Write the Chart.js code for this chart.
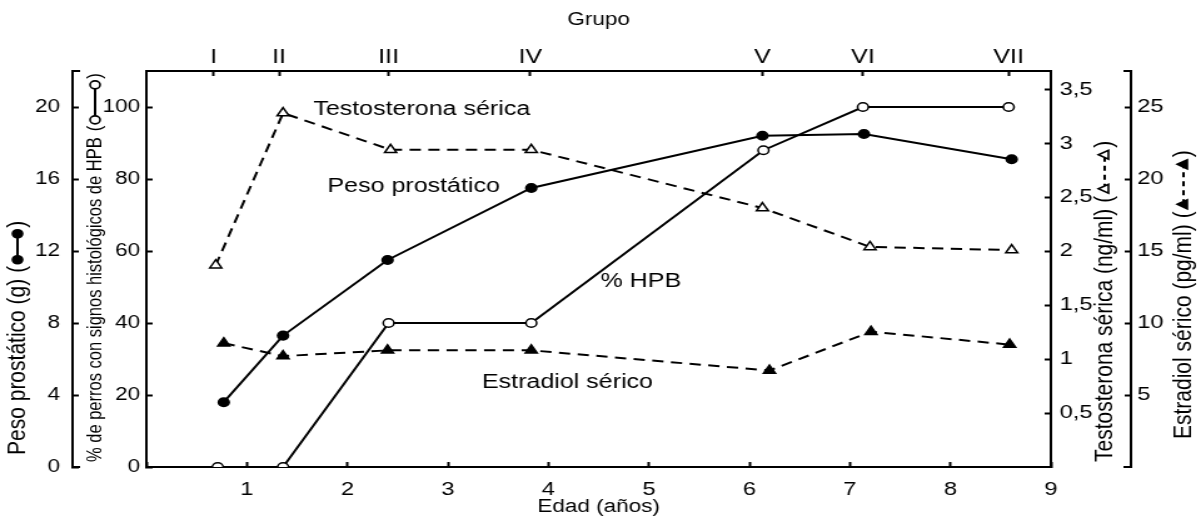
<!DOCTYPE html>
<html>
<head>
<meta charset="utf-8">
<script src="https://cdn.jsdelivr.net/npm/chart.js@4/dist/chart.umd.min.js"></script>
<style>
  html, body { margin: 0; padding: 0; background: #fff; overflow: hidden; }
  /* the figure is drawn on a narrower canvas and widened to the page width */
  #c { display: block; width: 1201px !important; height: 519px !important; }
</style>
</head>
<body>
<canvas id="c" width="960" height="519" style="width:1201px;height:519px"></canvas>
<script>
// Grupos de edad (eje superior)
const grupos = ['I', 'II', 'III', 'IV', 'V', 'VI', 'VII'];
const edadGrupo = [0.67, 1.32, 2.41, 3.82, 6.13, 7.13, 8.58];

// Peso prostático (g)
const edadPeso = [0.77, 1.36, 2.40, 3.83, 6.13, 7.14, 8.61];
const pesoProstatico = [3.6, 7.3, 11.5, 15.5, 18.4, 18.5, 17.1];

// % de perros con signos histológicos de HPB
const edadHPB = [0.71, 1.36, 2.41, 3.83, 6.14, 7.13, 8.58];
const perrosHPB = [0, 0, 40, 40, 88, 100, 100];

// Testosterona sérica (ng/ml)
const edadTesto = [0.69, 1.36, 2.43, 3.83, 6.13, 7.20, 8.61];
const testosterona = [1.87, 3.28, 2.94, 2.94, 2.40, 2.04, 2.01];

// Estradiol sérico (pg/ml)
const edadEstradiol = [0.77, 1.36, 2.40, 3.83, 6.20, 7.21, 8.59];
const estradiol = [8.6, 7.7, 8.1, 8.1, 6.7, 9.4, 8.5];

// Marcas de los ejes
const ticksEdad = [0, 1, 2, 3, 4, 5, 6, 7, 8, 9];
const ticksPeso = [0, 4, 8, 12, 16, 20];
const ticksHPB = [0, 20, 40, 60, 80, 100];
const ticksTesto = [0.5, 1, 1.5, 2, 2.5, 3, 3.5];
const ticksEstradiol = [5, 10, 15, 20, 25];

const FONT = '"Liberation Sans", Arial, Helvetica, sans-serif';
const f = size => ({ family: FONT, size: size });

const pts = (xs, ys) => xs.map((x, i) => ({ x: x, y: ys[i] }));
const setTicks = vals => s => { s.ticks = vals.map(v => ({ value: v })); };
const coma = v => String(v).replace('.', ',');

function frame(extra) {
  return Object.assign({
    border: { display: true, color: '#000', width: 2 },
    grid: { drawOnChartArea: false, color: '#000', tickColor: '#000', tickWidth: 2, tickLength: -5 },
  }, extra);
}

// Rótulos dentro del área de trazado (en unidades de edad y de %)
const rotulos = [
  { texto: 'Testosterona sérica', edad: 2.74, pct: 99.2 },
  { texto: 'Peso prostático', edad: 2.66, pct: 77.8 },
  { texto: '% HPB', edad: 4.92, pct: 51.4 },
  { texto: 'Estradiol sérico', edad: 4.19, pct: 23.6 },
];

// Títulos verticales con su símbolo de serie
function tituloVertical(ctx, x, y0, size, texto, simbolo) {
  ctx.save();
  ctx.translate(x, y0);
  ctx.rotate(-Math.PI / 2);
  ctx.font = size + 'px ' + FONT;
  ctx.fillStyle = '#000';
  ctx.strokeStyle = '#000';
  ctx.textBaseline = 'middle';
  ctx.textAlign = 'left';
  ctx.fillText(texto, 0, 0);
  let u = ctx.measureText(texto).width + 6;
  ctx.fillText('(', u, 0);
  u += ctx.measureText('(').width + 2;
  const L = simbolo.largo;
  const r = simbolo.radio;
  ctx.lineWidth = 2;
  ctx.setLineDash(simbolo.discontinuo ? [5, 4] : []);
  ctx.beginPath();
  ctx.moveTo(u + r, 0);
  ctx.lineTo(u + L - r, 0);
  ctx.stroke();
  ctx.setLineDash([]);
  [u + r, u + L - r].forEach(c => {
    ctx.beginPath();
    if (simbolo.forma === 'circulo') {
      ctx.arc(c, 0, r, 0, Math.PI * 2);
    } else {
      ctx.moveTo(c, -r);
      ctx.lineTo(c + r * 0.9, r * 0.6);
      ctx.lineTo(c - r * 0.9, r * 0.6);
      ctx.closePath();
    }
    ctx.fillStyle = simbolo.relleno ? '#000' : '#fff';
    ctx.fill();
    ctx.lineWidth = 1.6;
    ctx.stroke();
  });
  u += L + 2;
  ctx.fillStyle = '#000';
  ctx.fillText(')', u, 0);
  ctx.restore();
}

const decoraciones = {
  id: 'decoraciones',
  afterDraw(chart) {
    const ctx = chart.ctx;
    const sc = chart.scales;
    ctx.save();
    ctx.strokeStyle = '#000';
    ctx.lineWidth = 2;
    // remates en corchete de los ejes exteriores
    const p = sc.yPeso, e = sc.yEstr;
    ctx.beginPath();
    ctx.moveTo(p.right + 6, p.top); ctx.lineTo(p.right - 1, p.top);
    ctx.moveTo(p.right + 6, p.bottom); ctx.lineTo(p.right - 1, p.bottom);
    ctx.moveTo(e.left - 6, e.top); ctx.lineTo(e.left + 1, e.top);
    ctx.moveTo(e.left - 6, e.bottom); ctx.lineTo(e.left + 1, e.bottom);
    ctx.stroke();

    // rótulos de las curvas
    ctx.font = '20px ' + FONT;
    ctx.fillStyle = '#000';
    ctx.textAlign = 'center';
    ctx.textBaseline = 'middle';
    rotulos.forEach(r => {
      ctx.fillText(r.texto, sc.x.getPixelForValue(r.edad), sc.yPct.getPixelForValue(r.pct));
    });
    ctx.restore();

    // títulos de los ejes verticales
    tituloVertical(ctx, p.left + 14, p.bottom - 12, 21, 'Peso prostático (g)',
      { forma: 'circulo', relleno: true, radio: 4, largo: 34 });
    tituloVertical(ctx, sc.yPct.left + 18, sc.yPct.bottom - 5, 16.5, '% de perros con signos histológicos de HPB',
      { forma: 'circulo', relleno: false, radio: 4, largo: 43 });
    tituloVertical(ctx, sc.yTesto.left + 43, sc.yTesto.bottom - 5, 21, 'Testosterona sérica (ng/ml)',
      { forma: 'triangulo', relleno: false, radio: 5, largo: 44, discontinuo: true });
    tituloVertical(ctx, sc.yEstr.left + 42, sc.yEstr.bottom - 28, 21, 'Estradiol sérico (pg/ml)',
      { forma: 'triangulo', relleno: true, radio: 5, largo: 50, discontinuo: true });
  }
};

const serie = (label, data, yAxisID, opts) => Object.assign({
  label, data, yAxisID,
  borderColor: '#000',
  borderWidth: 2,
  pointBorderColor: '#000',
  pointBorderWidth: 1.5,
  tension: 0,
  fill: false,
}, opts);

new Chart(document.getElementById('c'), {
  type: 'line',
  data: {
    datasets: [
      serie('Peso prostático', pts(edadPeso, pesoProstatico), 'yPeso',
        { pointStyle: 'circle', pointRadius: 4.3, pointBackgroundColor: '#000' }),
      serie('% HPB', pts(edadHPB, perrosHPB), 'yPct',
        { pointStyle: 'circle', pointRadius: 4.3, pointBackgroundColor: '#fff' }),
      serie('Testosterona sérica', pts(edadTesto, testosterona), 'yTesto',
        { pointStyle: 'triangle', pointRadius: 5.5, pointBackgroundColor: '#fff', borderDash: [9, 6] }),
      serie('Estradiol sérico', pts(edadEstradiol, estradiol), 'yEstr',
        { pointStyle: 'triangle', pointRadius: 5.5, pointBackgroundColor: '#000', borderDash: [9, 6] }),
    ]
  },
  options: {
    responsive: false,
    animation: false,
    devicePixelRatio: 1,
    layout: { padding: 0 },
    plugins: { legend: { display: false }, tooltip: { enabled: false } },
    scales: {
      x: frame({
        type: 'linear', position: 'bottom', min: 0, max: 9,
        afterBuildTicks: setTicks(ticksEdad),
        afterFit: s => { s.height = 52; },
        ticks: { color: '#000', font: f(19), padding: 16, maxRotation: 0, autoSkip: false,
                 callback: v => (v === 0 ? '' : String(v)) },
        title: { display: true, text: 'Edad (años)', color: '#000', font: f(18), padding: { top: 0, bottom: 1 } },
      }),
      grupo: frame({
        type: 'linear', position: 'top', min: 0, max: 9,
        afterBuildTicks: setTicks(edadGrupo),
        afterFit: s => { s.height = 71; },
        ticks: { color: '#000', font: f(20), padding: 7, maxRotation: 0, autoSkip: false,
                 callback: (v, i) => grupos[i] },
        title: { display: true, text: 'Grupo', color: '#000', font: f(18), padding: { top: 9, bottom: 0 } },
      }),
      yPct: frame({
        type: 'linear', position: 'left', weight: 0, min: 0, max: 110,
        afterBuildTicks: setTicks(ticksHPB),
        afterFit: s => { s.width = 59; },
        ticks: { color: '#000', font: f(18), padding: 10 },
      }),
      yPeso: frame({
        type: 'linear', position: 'left', weight: 1, min: 0, max: 22,
        afterBuildTicks: setTicks(ticksPeso),
        afterFit: s => { s.width = 58; },
        ticks: { color: '#000', font: f(18), padding: 15 },
      }),
      yTesto: frame({
        type: 'linear', position: 'right', weight: 0, min: 0, max: 3.67,
        afterBuildTicks: setTicks(ticksTesto),
        afterFit: s => { s.width = 64; },
        ticks: { color: '#000', font: f(19), padding: 12, callback: v => coma(v) },
      }),
      yEstr: frame({
        type: 'linear', position: 'right', weight: 1, min: 0, max: 27.5,
        afterBuildTicks: setTicks(ticksEstradiol),
        afterFit: s => { s.width = 56; },
        ticks: { color: '#000', font: f(19), padding: 10 },
      }),
    }
  },
  plugins: [decoraciones]
});
</script>
</body>
</html>
